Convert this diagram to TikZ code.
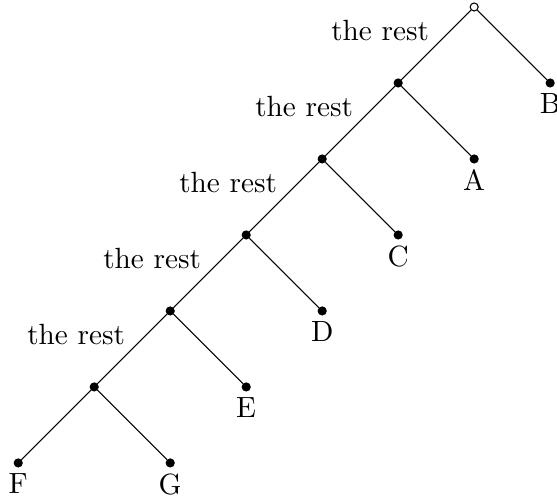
\documentclass[tikz,border=0pt]{standalone}
\usepackage{tikz}
\usetikzlibrary{positioning}
\tikzset{
  rootdot/.style={
    circle, draw, fill=white, inner sep=0pt, minimum size=3pt
  },
  forkdot/.style={
    circle, draw, fill=black, inner sep=0pt, minimum size=3pt
  },
  leafdot/.style={
    circle, draw, fill=black, inner sep=0pt, minimum size=3pt,
    label={[inner sep=2.2pt]below:#1}
  },
  restlabel/.style={midway, above left, inner xsep=2.5pt, inner ysep=1.5pt},
}
\begin{document}
\begin{tikzpicture}[node distance=1cm and 1cm, on grid,
  every node/.append style={font=\fontsize{10.95}{13.6}\selectfont}]
\useasboundingbox (-6.24,-6.50) rectangle (1.09,0.092);

% Spine of the tree
\node[rootdot] (root) {};
\node[forkdot, below left=of root] (fork-1) {};
\node[forkdot, below left=of fork-1] (fork-2) {};
\node[forkdot, below left=of fork-2] (fork-3) {};
\node[forkdot, below left=of fork-3] (fork-4) {};
\node[forkdot, below left=of fork-4] (fork-5) {};

% Leaves
\node[leafdot=B, below right=of root] (leaf-b) {};
\node[leafdot=A, below right=of fork-1] (leaf-a) {};
\node[leafdot=C, below right=of fork-2] (leaf-c) {};
\node[leafdot=D, below right=of fork-3] (leaf-d) {};
\node[leafdot=E, below right=of fork-4] (leaf-e) {};
\node[leafdot=F, below left=of fork-5] (leaf-f) {};
\node[leafdot=G, below right=of fork-5] (leaf-g) {};

% Branches
\draw (root) -- (fork-1) node[restlabel] {the rest};
\draw (fork-1) -- (fork-2) node[restlabel] {the rest};
\draw (fork-2) -- (fork-3) node[restlabel] {the rest};
\draw (fork-3) -- (fork-4) node[restlabel] {the rest};
\draw (fork-4) -- (fork-5) node[restlabel] {the rest};
\draw (root) -- (leaf-b);
\draw (fork-1) -- (leaf-a);
\draw (fork-2) -- (leaf-c);
\draw (fork-3) -- (leaf-d);
\draw (fork-4) -- (leaf-e);
\draw (fork-5) -- (leaf-f);
\draw (fork-5) -- (leaf-g);

\end{tikzpicture}
\end{document}
